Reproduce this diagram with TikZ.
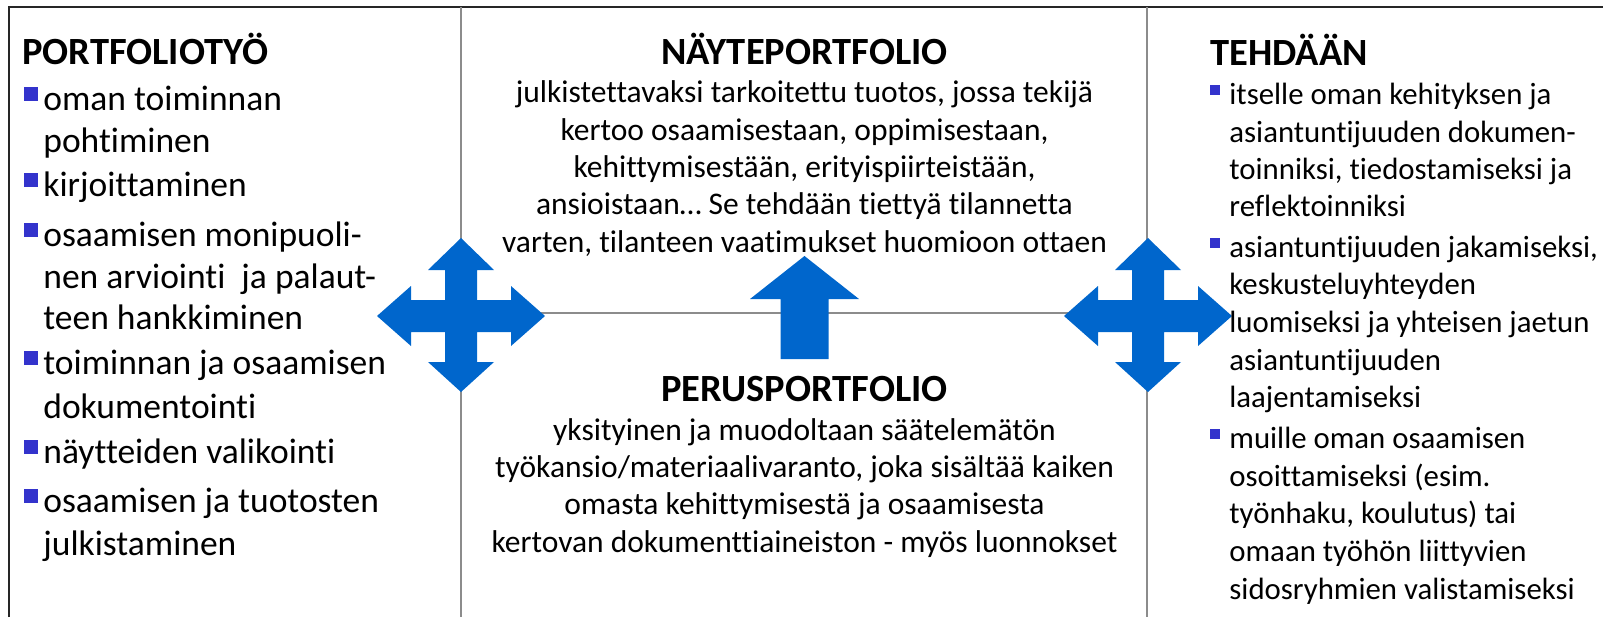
\documentclass[tikz,border=0pt]{standalone}
\usepackage{fontspec}
\setmainfont[Ligatures={NoCommon}]{Carlito}
\usepackage{tikz}
\definecolor{arrowblue}{HTML}{0066CC}
\definecolor{bulletblue}{HTML}{3333CC}
\definecolor{rulegray}{HTML}{8C8C8C}

\begin{document}
\begin{tikzpicture}[x=0.5pt,y=-0.5pt]
   \useasboundingbox (0,0) rectangle (1603,617);
   \tikzstyle{head}=[font=\fontsize{19.25}{23}\selectfont\bfseries, inner sep=0pt]
   \tikzstyle{txt}=[font=\fontsize{15.75}{18.75}\selectfont, inner sep=0pt]
   \tikzstyle{listtxt}=[font=\fontsize{15.4}{18.5}\selectfont, inner sep=0pt, anchor=base west]
   \tikzstyle{bigtxt}=[font=\fontsize{17.75}{21}\selectfont, inner sep=0pt, anchor=base west]
   \tikzstyle{bullet}=[fill=bulletblue, inner sep=0pt, minimum size=5pt]
   \tikzstyle{bigbullet}=[bullet, minimum size=7pt]
   \tikzstyle{cross}=[fill=arrowblue]
   \tikzstyle{rule}=[rulegray, line width=1pt]

   % frame and column rules
   \coordinate (tl) at (9,7);
   \coordinate (tr) at (1603,7);
   \coordinate (bl) at (9,617);
   \draw[line width=1.2pt, black!85] (bl) -- (tl) -- (tr);
   \coordinate (mtop) at (460.5,7);   \coordinate (mbot) at (460.5,617);
   \coordinate (rtop) at (1147,7);    \coordinate (rbot) at (1147,617);
   \coordinate (hl) at (460.5,313);   \coordinate (hr) at (1147,313);
   \draw[rule] (mtop) -- (mbot);
   \draw[rule] (rtop) -- (rbot);
   \draw[rule] (hl) -- (hr);

   \foreach \cx in {461,1148} {
      \fill[cross, shift={(\cx,316)}] (84,0) -- (50,-30) -- (50,-16) -- (16,-16) -- (16,-46)
         -- (33,-46) -- (0,-78) -- (-33,-46) -- (-16,-46) -- (-16,-16) -- (-50,-16) -- (-50,-30)
         -- (-84,0) -- (-50,30) -- (-50,16) -- (-16,16) -- (-16,46) -- (-33,46) -- (0,76)
         -- (33,46) -- (16,46) -- (16,16) -- (50,16) -- (50,30) -- cycle;
   }
   \fill[cross] (804.5,256) -- (859,299) -- (828.5,299) -- (828.5,359) -- (780.5,359)
      -- (780.5,299) -- (750,299) -- cycle;

   % left column
   \node[head, anchor=base west] (work) at (22,64) {PORTFOLIOTYÖ};
   \foreach \y/\line [count=\i] in {110/{oman toiminnan}, 152/{pohtiminen}, 196/{kirjoittaminen},
         246/{osaamisen monipuoli-}, 288/{nen arviointi\ \ ja palaut-}, 329/{teen hankkiminen},
         374/{toiminnan ja osaamisen}, 418/{dokumentointi}, 463/{näytteiden valikointi},
         512/{osaamisen ja tuotosten}, 555/{julkistaminen}} {
      \node[bigtxt] (work\i) at (43,\y) {\line};
   }
   \foreach \y [count=\i] in {110,196,246,374,463,512}
      \node[bigbullet] (wb\i) at (31,\y-16) {};

   % middle column
   \node[head, anchor=base] (sample) at (804.5,64) {NÄYTEPORTFOLIO};
   \foreach \line [count=\i] in {{julkistettavaksi tarkoitettu tuotos, jossa tekijä},
         {kertoo osaamisestaan, oppimisestaan,}, {kehittymisestään, erityispiirteistään,},
         {ansioistaan\ldots\ Se tehdään tiettyä tilannetta},
         {varten, tilanteen vaatimukset huomioon ottaen}} {
      \node[txt, anchor=base] (sample\i) at ({804.5},{65.5+37.3*\i}) {\line};
   }
   \node[head, anchor=base] (basic) at (804.5,401) {PERUSPORTFOLIO};
   \foreach \line [count=\i] in {{yksityinen ja muodoltaan säätelemätön},
         {työkansio/materiaalivaranto, joka sisältää kaiken},
         {omasta kehittymisestä ja osaamisesta},
         {kertovan dokumenttiaineiston - myös luonnokset}} {
      \node[txt, anchor=base] (basic\i) at ({804.5},{403+37.3*\i}) {\line};
   }

   % right column
   \node[head, anchor=base west] (done) at (1210,65) {TEHDÄÄN};
   \foreach \y/\line [count=\i] in {104/{itselle oman kehityksen ja}, 142/{asiantuntijuuden dokumen-},
         179/{toinniksi, tiedostamiseksi ja}, 216/{reflektoinniksi},
         257/{asiantuntijuuden jakamiseksi,}, 294/{keskusteluyhteyden},
         332/{luomiseksi ja yhteisen jaetun}, 370/{asiantuntijuuden}, 407/{laajentamiseksi},
         448/{muille oman osaamisen}, 486/{osoittamiseksi (esim.}, 523/{työnhaku, koulutus) tai},
         561/{omaan työhön liittyvien}, 599/{sidosryhmien valistamiseksi}} {
      \node[listtxt] (done\i) at (1229,\y) {\line};
   }
   \foreach \y [count=\i] in {104,257,448}
      \node[bullet] (db\i) at (1215,\y-14) {};
\end{tikzpicture}
\end{document}
